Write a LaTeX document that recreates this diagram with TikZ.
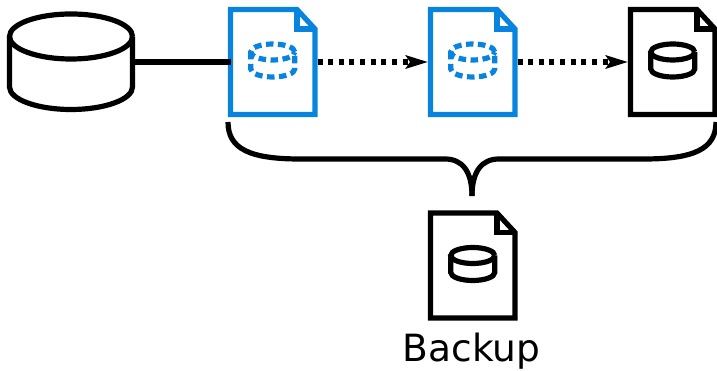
\documentclass[tikz,border=0pt]{standalone}
\usepackage{fontspec}
\setmainfont{DejaVu Sans}
\usepackage{xcolor}
\usepackage{tikz}
\usetikzlibrary{arrows.meta, positioning}
\definecolor{copyblue}{RGB}{8,132,222}
\tikzset{bluefile/.style={copyblue, line width=5.2pt},
blackfile/.style={black, line width=5.2pt},
bluedisk/.style={dash pattern=on 7.5pt off 4.5pt},
blackdisk/.style={},
filenode/.style={inner sep=0pt, outer sep=0pt, minimum width=84.5pt, minimum height=105pt},
dbnode/.style={inner sep=0pt, outer sep=0pt, minimum width=123pt, minimum height=96pt}}

\begin{document}
\begin{tikzpicture}[
                line join=miter,
                flowline/.style={black, line width=5.2pt},
                dotline/.style={black, line width=5.2pt, dash pattern=on 5pt off 5.65pt, -{Stealth[length=22pt, width=13pt, inset=4pt]}, shorten >=2.5pt, shorten <=2.5pt}
            ]
                \useasboundingbox (0pt, 0pt) rectangle (717pt, 371pt);

                % Database
                \node[dbnode] (db) at (71pt, 309pt) {};
                \draw[flowline, fill=white] ([shift={(61.5pt, 25.5pt)}]db.center) arc (0:360:61.5pt and 22.5pt);
                \draw[flowline] ([shift={(-61.5pt, 25.5pt)}]db.center) -- ([shift={(-61.5pt, -25pt)}]db.center) arc (180:360:61.5pt and 22.5pt) -- ([shift={(61.5pt, 25.5pt)}]db.center);

                % Files
                \foreach \name/\x/\y/\filestyle/\diskstyle in {fileA/272.75/309/bluefile/bluedisk, fileB/472.75/309/bluefile/bluedisk, fileC/672.75/309/blackfile/blackdisk, backup/472.75/105.5/blackfile/blackdisk} {
\node[filenode] (\name) at (\x pt, \y pt) {};
\begin{scope}[shift={(\x pt, \y pt)}, \filestyle]
\draw (-42.25pt, 52.5pt) -- (24.25pt, 52.5pt) -- (42.25pt, 33pt) -- (42.25pt, -52.5pt) -- (-42.25pt, -52.5pt) -- cycle;
\draw (24.25pt, 52.5pt) -- (24.25pt, 33pt) -- (42.25pt, 33pt);
\draw[\diskstyle] (22pt, 10pt) arc (0:360:22pt and 8pt);
\draw[\diskstyle] (-22pt, 10pt) -- (-22pt, -7pt) arc (180:360:22pt and 8pt) -- (22pt, 10pt);
\end{scope}
}

                % Connectors
                \draw[flowline] (db.east) -- (fileA.west);
                \draw[dotline] (fileA.east) -- (fileB.west);
                \draw[dotline] (fileB.east) -- (fileC.west);

                % Brace
                \coordinate (braceleft) at (228pt, 249pt);
                \coordinate (braceright) at (716pt, 249pt);
                \coordinate (bracetip) at (472pt, 175pt);
                \draw[flowline] (braceleft) .. controls (228pt, 222pt) and (250pt, 212pt) .. (300pt, 212pt) -- (445pt, 212pt) .. controls (462pt, 212pt) and (472pt, 200pt) .. (bracetip);
                \draw[flowline] (braceright) .. controls (716pt, 222pt) and (694pt, 212pt) .. (644pt, 212pt) -- (499pt, 212pt) .. controls (482pt, 212pt) and (472pt, 200pt) .. (bracetip);

                % Caption
                \node[anchor=base, font=\fontsize{37.5}{37.5}\selectfont, inner sep=0pt] (backuplabel) at (471.5pt, 9pt) {Backup};
            \end{tikzpicture}
\end{document}
